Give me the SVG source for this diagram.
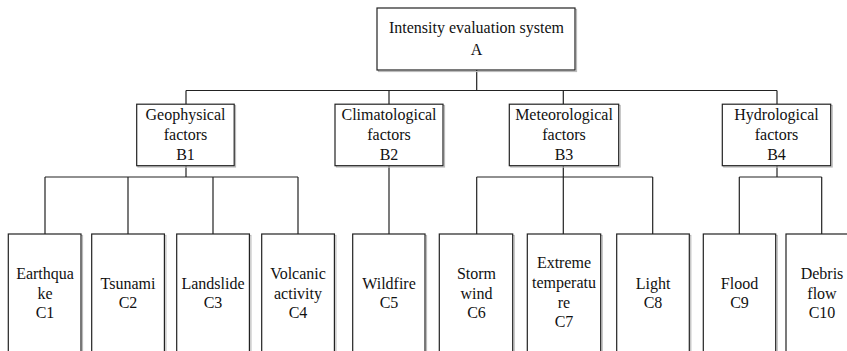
<svg xmlns="http://www.w3.org/2000/svg" width="847" height="351" viewBox="0 0 847 351">
<style>
.box{fill:#fff;stroke:#222;stroke-width:1.2}
.sh{fill:none;stroke:#bbb;stroke-width:1.2}
.ln{fill:none;stroke:#222;stroke-width:1.2}
.t{font-family:'Liberation Serif','Times New Roman',Times,serif;font-size:16px;fill:#111;text-anchor:middle}
</style>
<rect width="847" height="351" fill="#fff"/>
<g id="connectors">
<path class="ln" d="M476.7 70V90.5M186 90.5H777M186 90.5V104M389 90.5V104M563.3 90.5V104M777 90.5V104"/>
<path class="ln" d="M186 166V177M45 177H298M45 177V234M128 177V234M213 177V234M298 177V234"/>
<path class="ln" d="M389 166V234"/>
<path class="ln" d="M563.3 166V177M476.7 177H652.7M476.7 177V234M563.3 177V234M652.7 177V234"/>
<path class="ln" d="M777 166V177M739.3 177H821.7M739.3 177V234M821.7 177V234"/>
</g>
<g id="A"><rect class="sh" x="378.5" y="9.5" width="198" height="62"/><rect class="box" x="377" y="8" width="198" height="62"/><text class="t" x="476.5" y="33">Intensity evaluation system</text><text class="t" x="476.5" y="55">A</text></g>
<g id="B1"><rect class="sh" x="138" y="105.5" width="97.5" height="61.5"/><rect class="box" x="136.7" y="104.2" width="97.5" height="61.5"/><text class="t" x="185.5" y="120">Geophysical</text><text class="t" x="185.5" y="140">factors</text><text class="t" x="185.5" y="159.5">B1</text></g>
<g id="B2"><rect class="sh" x="336.5" y="105.5" width="108" height="61.5"/><rect class="box" x="335" y="104.2" width="108" height="61.5"/><text class="t" x="389" y="120">Climatological</text><text class="t" x="389" y="140">factors</text><text class="t" x="389" y="159.5">B2</text></g>
<g id="B3"><rect class="sh" x="510.8" y="105.5" width="109.4" height="61.5"/><rect class="box" x="509.3" y="104.2" width="109.4" height="61.5"/><text class="t" x="564" y="120">Meteorological</text><text class="t" x="564" y="140">factors</text><text class="t" x="564" y="159.5">B3</text></g>
<g id="B4"><rect class="sh" x="723.8" y="105.5" width="108.4" height="61.5"/><rect class="box" x="722.3" y="104.2" width="108.4" height="61.5"/><text class="t" x="776.5" y="120">Hydrological</text><text class="t" x="776.5" y="140">factors</text><text class="t" x="776.5" y="159.5">B4</text></g>
<g id="C1"><rect class="sh" x="9.8" y="235.5" width="72.7" height="130"/><rect class="box" x="8.3" y="234" width="72.7" height="130"/><text class="t" x="45" y="278.5">Earthqua</text><text class="t" x="45" y="298.5">ke</text><text class="t" x="45" y="318">C1</text></g>
<g id="C2"><rect class="sh" x="93.2" y="235.5" width="72.7" height="130"/><rect class="box" x="91.7" y="234" width="72.7" height="130"/><text class="t" x="128" y="288.5">Tsunami</text><text class="t" x="128" y="308">C2</text></g>
<g id="C3"><rect class="sh" x="178.2" y="235.5" width="72.7" height="130"/><rect class="box" x="176.7" y="234" width="72.7" height="130"/><text class="t" x="213" y="288.5">Landslide</text><text class="t" x="213" y="308">C3</text></g>
<g id="C4"><rect class="sh" x="263.2" y="235.5" width="72.7" height="130"/><rect class="box" x="261.7" y="234" width="72.7" height="130"/><text class="t" x="298" y="278.5">Volcanic</text><text class="t" x="298" y="298.5">activity</text><text class="t" x="298" y="318">C4</text></g>
<g id="C5"><rect class="sh" x="354.2" y="235.5" width="72.3" height="130"/><rect class="box" x="352.7" y="234" width="72.3" height="130"/><text class="t" x="389" y="288.5">Wildfire</text><text class="t" x="389" y="308">C5</text></g>
<g id="C6"><rect class="sh" x="440.8" y="235.5" width="73.4" height="130"/><rect class="box" x="439.3" y="234" width="73.4" height="130"/><text class="t" x="476.5" y="278.5">Storm</text><text class="t" x="476.5" y="298.5">wind</text><text class="t" x="476.5" y="318">C6</text></g>
<g id="C7"><rect class="sh" x="528.8" y="235.5" width="73.4" height="130"/><rect class="box" x="527.3" y="234" width="73.4" height="130"/><text class="t" x="564" y="267.5">Extreme</text><text class="t" x="564" y="287.5">temperatu</text><text class="t" x="564" y="307.5">re</text><text class="t" x="564" y="327">C7</text></g>
<g id="C8"><rect class="sh" x="618.2" y="235.5" width="72.6" height="130"/><rect class="box" x="616.7" y="234" width="72.6" height="130"/><text class="t" x="653" y="288.5">Light</text><text class="t" x="653" y="308">C8</text></g>
<g id="C9"><rect class="sh" x="704.8" y="235.5" width="72.4" height="130"/><rect class="box" x="703.3" y="234" width="72.4" height="130"/><text class="t" x="739.5" y="288.5">Flood</text><text class="t" x="739.5" y="308">C9</text></g>
<g id="C10"><rect class="sh" x="787.5" y="235.5" width="73" height="130"/><rect class="box" x="786" y="234" width="73" height="130"/><text class="t" x="822" y="278.5">Debris</text><text class="t" x="822" y="298.5">flow</text><text class="t" x="822" y="318">C10</text></g>
</svg>
